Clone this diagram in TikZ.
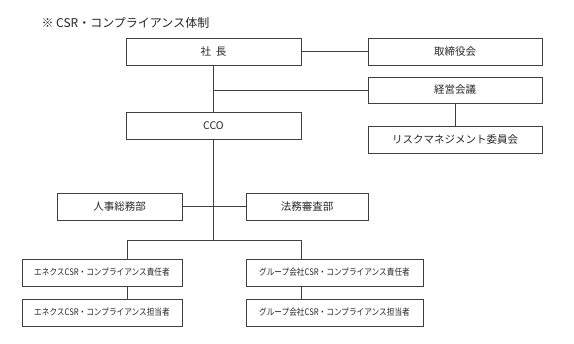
\documentclass[tikz,border=0pt]{standalone}
\usepackage{fontspec}
\newfontfamily\cjk{Noto Sans CJK JP}
\newfontfamily\cjkn[FakeStretch=0.85]{Noto Sans CJK JP}
\begin{document}
\begin{tikzpicture}[x=1pt,y=-1pt,
  box/.style={draw=black!75, line width=0.8pt, inner sep=0pt, text=black!85,
    minimum height=27pt, font=\cjk\fontsize{10.5}{12}\selectfont},
  wide/.style={box, minimum width=175pt},
  rbox/.style={box, minimum width=174pt},
  dept/.style={box, minimum width=124pt},
  sbox/.style={box, font=\cjkn\fontsize{9}{11}\selectfont},
  conn/.style={draw=black!75, line width=0.8pt}]
\useasboundingbox[fill=white] (0,0) rectangle (574,344);
\node[anchor=west, font=\cjk\fontsize{12}{14}\selectfont, text=black!85] (title) at (38,22.5) {※\ CSR・コンプライアンス体制};
\node[wide] (pres) at (213.5,51.5) {社\ \ 長};
\node[rbox] (board) at (455,51.5) {取締役会};
\node[rbox, minimum height=26pt] (mgmt) at (455,90) {経営会議};
\node[wide] (cco) at (213.5,125.5) {CCO};
\node[rbox] (risk) at (455,139.5) {リスクマネジメント委員会};
\node[dept, minimum width=125pt] (hr) at (119.5,206.5) {人事総務部};
\node[dept, minimum width=122pt] (legal) at (307,206.5) {法務審査部};
\node[sbox, minimum width=160pt] (enx1) at (102,272.5) {エネクスCSR・コンプライアンス責任者};
\node[sbox, minimum width=177pt] (grp1) at (334.5,272.5) {グループ会社CSR・コンプライアンス責任者};
\node[sbox, minimum width=160pt] (enx2) at (102,312.5) {エネクスCSR・コンプライアンス担当者};
\node[sbox, minimum width=177pt] (grp2) at (334.5,312.5) {グループ会社CSR・コンプライアンス担当者};
\coordinate (j1) at (213.5,90);
\coordinate (j3) at (213.5,240);
\coordinate (bl) at (127,240);
\coordinate (br) at (301,240);
\path[conn] (pres.east) -- (board.west);
\path[conn] (pres.south) -- (cco.north);
\path[conn] (j1) -- (mgmt.west);
\path[conn] (mgmt.south) -- (risk.north);
\path[conn] (cco.south) -- (j3);
\path[conn] (hr.east) -- (legal.west);
\path[conn] (bl) -- (br);
\path[conn] (bl) -- (bl |- enx1.north);
\path[conn] (br) -- (br |- grp1.north);
\path[conn] (bl |- enx1.south) -- (bl |- enx2.north);
\path[conn] (br |- grp1.south) -- (br |- grp2.north);
\end{tikzpicture}
\end{document}
